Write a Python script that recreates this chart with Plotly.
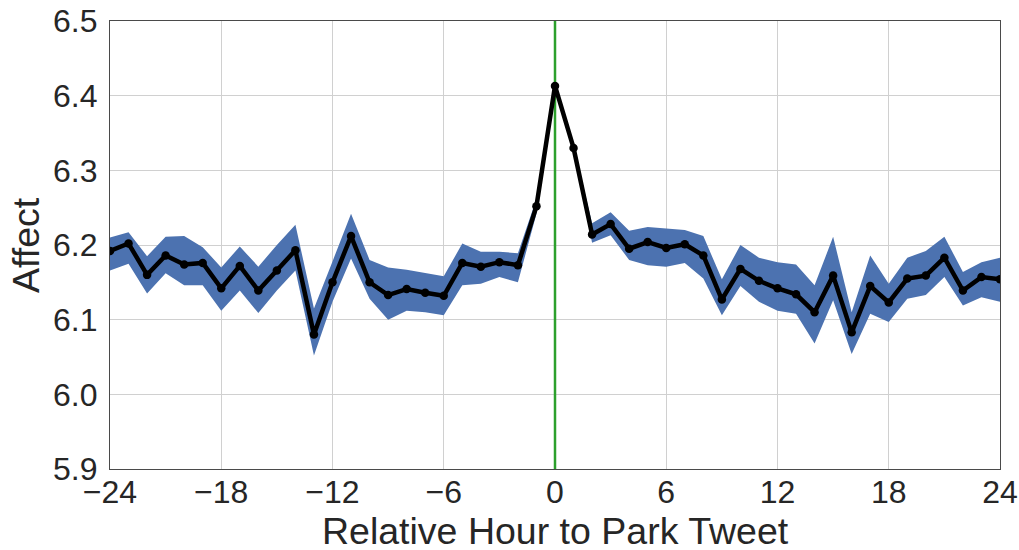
import plotly.graph_objects as go

hours = list(range(-24, 25))
affect = [6.192, 6.202, 6.160, 6.186, 6.174, 6.176, 6.142, 6.172, 6.139, 6.166,
          6.193, 6.080, 6.150, 6.212, 6.150, 6.133, 6.141, 6.136, 6.132, 6.176,
          6.171, 6.177, 6.173, 6.252, 6.413, 6.330, 6.214, 6.228, 6.195, 6.204,
          6.196, 6.201, 6.186, 6.127, 6.168, 6.152, 6.142, 6.134, 6.110, 6.159,
          6.083, 6.145, 6.123, 6.155, 6.159, 6.183, 6.139, 6.157, 6.154]
upper = [6.210, 6.217, 6.185, 6.211, 6.212, 6.197, 6.170, 6.198, 6.171, 6.200,
         6.227, 6.115, 6.178, 6.242, 6.180, 6.170, 6.167, 6.162, 6.158, 6.202,
         6.191, 6.191, 6.189, 6.262, 6.417, 6.334, 6.229, 6.244, 6.219, 6.224,
         6.222, 6.220, 6.212, 6.154, 6.200, 6.183, 6.177, 6.174, 6.146, 6.211,
         6.110, 6.186, 6.148, 6.183, 6.192, 6.211, 6.164, 6.177, 6.183]
lower = [6.166, 6.175, 6.135, 6.162, 6.146, 6.146, 6.112, 6.139, 6.109, 6.139,
         6.166, 6.052, 6.124, 6.182, 6.128, 6.100, 6.112, 6.110, 6.106, 6.146,
         6.148, 6.157, 6.150, 6.242, 6.409, 6.326, 6.203, 6.213, 6.180, 6.173,
         6.171, 6.176, 6.155, 6.106, 6.145, 6.124, 6.112, 6.108, 6.068, 6.126,
         6.054, 6.108, 6.097, 6.128, 6.133, 6.157, 6.119, 6.130, 6.124]
x_ticks = [-24, -18, -12, -6, 0, 6, 12, 18, 24]
y_ticks = [5.9, 6.0, 6.1, 6.2, 6.3, 6.4, 6.5]
event_hour = 0
x_title = "Relative Hour to Park Tweet"
y_title = "Affect"

band_color = "#4C72B0"
text_color = "#262626"
font_family = "Liberation Sans, Arial, sans-serif"

fig = go.Figure()
fig.add_trace(go.Scatter(x=hours, y=upper, mode="lines", line=dict(width=0, color=band_color),
                         showlegend=False, hoverinfo="skip"))
fig.add_trace(go.Scatter(x=hours, y=lower, mode="lines", line=dict(width=0, color=band_color),
                         fill="tonexty", fillcolor=band_color, showlegend=False, hoverinfo="skip"))
fig.add_trace(go.Scatter(x=[event_hour, event_hour], y=[y_ticks[0], y_ticks[-1]], mode="lines",
                         line=dict(color="#2ca02c", width=2.5), showlegend=False))
fig.add_trace(go.Scatter(x=hours, y=affect, mode="lines+markers",
                         line=dict(color="black", width=4.5),
                         marker=dict(color="black", size=8.5), showlegend=False))

fig.update_layout(
    width=1019, height=550,
    margin=dict(l=110, r=19, t=21, b=81),
    plot_bgcolor="white", paper_bgcolor="white",
    font=dict(family=font_family, color=text_color, size=32),
    annotations=[
        dict(text=x_title, xref="paper", yref="paper", x=0.5, y=0,
             xanchor="center", yanchor="middle", yshift=-62, showarrow=False,
             font=dict(size=37.5, color=text_color)),
        dict(text=y_title, xref="paper", yref="paper", x=0, y=0.5, textangle=-90,
             xanchor="center", yanchor="middle", xshift=-84, showarrow=False,
             font=dict(size=37.5, color=text_color)),
    ],
)
fig.update_xaxes(
    range=[x_ticks[0], x_ticks[-1]], tickvals=x_ticks, automargin=False,
    showgrid=True, gridcolor="#d0d0d0", gridwidth=1.2,
    showline=True, linecolor="#4a4a4a", linewidth=1.2, mirror=True,
    zeroline=False, ticks="", ticklabelstandoff=-6,
    tickfont=dict(size=32, color=text_color),
)
fig.update_yaxes(
    range=[y_ticks[0], y_ticks[-1]], tickvals=y_ticks, tickformat=".1f", automargin=False,
    showgrid=True, gridcolor="#d0d0d0", gridwidth=1.2,
    showline=True, linecolor="#4a4a4a", linewidth=1.2, mirror=True,
    zeroline=False, ticks="", ticklabelstandoff=5,
    tickfont=dict(size=32, color=text_color),
)

fig.write_html("out.html")
